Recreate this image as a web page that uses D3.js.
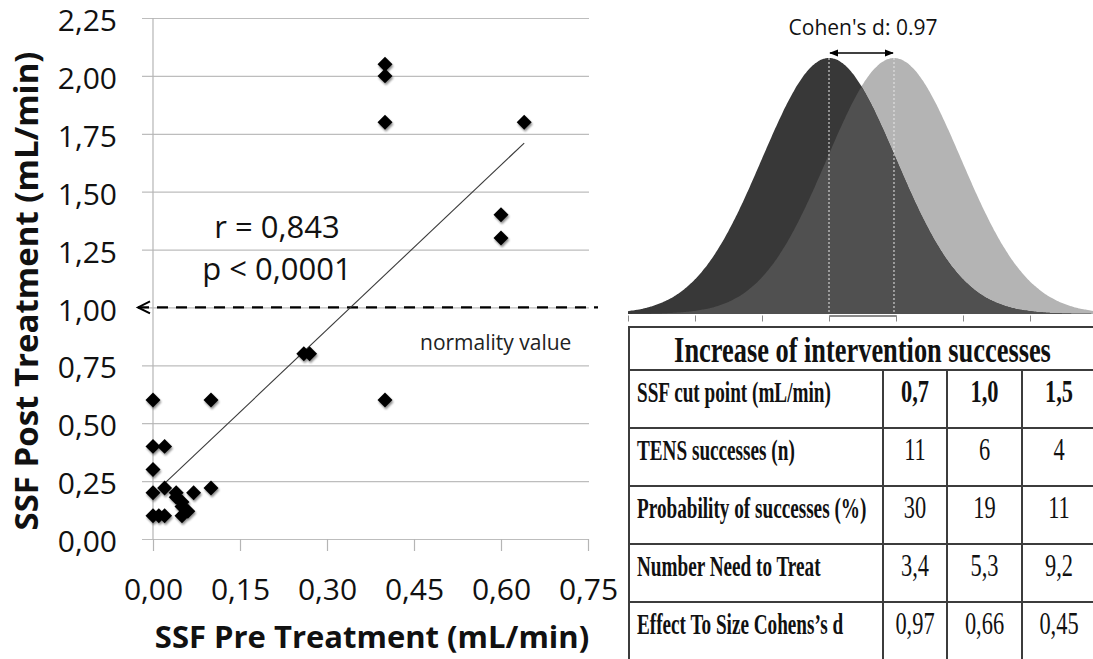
<!DOCTYPE html>
<html><head><meta charset="utf-8">
<script src="https://cdn.jsdelivr.net/npm/d3@7"></script>
<style>body{margin:0;background:#fff} svg{display:block}</style>
</head><body>
<svg id="c" width="1093" height="659"></svg>
<script>
// ---------- DATA ----------
const preTreatment  = [0.00,0.01,0.02,0.05,0.06,0.05,0.05,0.04,0.04,0.07,0.10,0.02,0.00,0.00,0.00,0.02,0.00,0.10,0.26,0.27,0.40,0.40,0.40,0.40,0.60,0.60,0.64];
const postTreatment = [0.10,0.10,0.10,0.10,0.12,0.14,0.16,0.18,0.20,0.20,0.22,0.22,0.20,0.30,0.40,0.40,0.60,0.60,0.80,0.80,0.60,1.80,2.00,2.05,1.40,1.30,1.80];
const xTicks = [0, 0.15, 0.30, 0.45, 0.60, 0.75];
const yTicks = [0, 0.25, 0.50, 0.75, 1.00, 1.25, 1.50, 1.75, 2.00, 2.25];
const trendPre  = [0.02, 0.64];
const trendPost = [0.24, 1.71];
const normalityValue = 1.00;
const statR = "r = 0,843";
const statP = "p < 0,0001";
const cohensD = 0.97;
const distTicks = [-3, -2, -1, 0, 1, 2, 3, 4];

const tableTitle = "Increase of intervention successes";
const rowLabels = ["SSF cut point (mL/min)", "TENS successes (n)", "Probability of successes (%)", "Number Need to Treat", "Effect To Size Cohens\u2019s d"];
const cutPoints   = [0.7, 1.0, 1.5];
const tensSuccess = [11, 6, 4];
const probSuccess = [30, 19, 11];
const nnt         = [3.4, 5.3, 9.2];
const effectSize  = [0.97, 0.66, 0.45];

// ---------- SETUP ----------
const loc = d3.formatLocale({decimal: ",", thousands: ".", grouping: [3], currency: ["", ""]});
const f2 = loc.format(".2f"), f1 = loc.format(".1f"), f0 = loc.format("d");
const svg = d3.select("#c");
const SANS = "'Open Sans', sans-serif";
const SERIF = "'Liberation Serif', serif";

const defs = svg.append("defs");
const sh = defs.append("filter").attr("id","sh").attr("x","-50%").attr("y","-50%").attr("width","200%").attr("height","200%");
sh.append("feGaussianBlur").attr("in","SourceAlpha").attr("stdDeviation",1.3).attr("result","b");
sh.append("feOffset").attr("in","b").attr("dx",1).attr("dy",1.5).attr("result","o");
sh.append("feComponentTransfer").attr("in","o").attr("result","o2").append("feFuncA").attr("type","linear").attr("slope",0.45);
const mg = sh.append("feMerge"); mg.append("feMergeNode").attr("in","o2"); mg.append("feMergeNode").attr("in","SourceGraphic");

// ---------- SCATTER ----------
const x = d3.scaleLinear().domain([0, 0.75]).range([153, 588]);
const y = d3.scaleLinear().domain([0, 2.25]).range([539, 18]);

// gridlines (extend left as outside ticks)
svg.append("g").attr("transform","translate(142,0)")
  .call(d3.axisRight(y).tickValues(yTicks).tickSize(589-142).tickFormat(""))
  .call(g => { g.select(".domain").remove(); g.selectAll("line").attr("stroke","#bdbdbd").attr("stroke-width",1.2); });

// y-axis line
svg.append("line").attr("x1",x(0)).attr("x2",x(0)).attr("y1",y(2.25)).attr("y2",y(0))
  .attr("stroke","#b5b5b5").attr("stroke-width",1.2);

// y labels
svg.append("g").attr("transform",`translate(${x(0)},3)`)
  .call(d3.axisLeft(y).tickValues(yTicks).tickSize(0).tickPadding(36).tickFormat(f2))
  .call(g => { g.select(".domain").remove(); g.selectAll("text").attr("font-family",SANS).attr("font-size",30).attr("fill","#111"); });

// x axis
svg.append("g").attr("transform",`translate(0,${y(0)})`)
  .call(d3.axisBottom(x).tickValues(xTicks).tickSizeInner(12).tickSizeOuter(0).tickPadding(28).tickFormat(f2))
  .call(g => { g.select(".domain").remove();
    g.selectAll("line").attr("stroke","#b5b5b5").attr("stroke-width",1.2);
    g.selectAll("text").attr("font-family",SANS).attr("font-size",30).attr("fill","#111"); });

// axis titles
svg.append("text").attr("transform",`translate(38,291) rotate(-90)`).attr("text-anchor","middle")
  .attr("font-family",SANS).attr("font-weight",700).attr("font-size",33).attr("fill","#111")
  .text("SSF Post Treatment (mL/min)");
svg.append("text").attr("x",372).attr("y",648).attr("text-anchor","middle")
  .attr("font-family",SANS).attr("font-weight",700).attr("font-size",31).attr("fill","#111")
  .text("SSF Pre Treatment (mL/min)");

// normality dashed line with arrow
const yN = y(normalityValue);
svg.append("line").attr("x1",x(0)-15).attr("x2",598).attr("y1",yN).attr("y2",yN)
  .attr("stroke","#000").attr("stroke-width",2.2).attr("stroke-dasharray","11,8");
svg.append("path").attr("d",`M${x(0)-3},${yN-6}L${x(0)-15},${yN}L${x(0)-3},${yN+6}`)
  .attr("fill","none").attr("stroke","#000").attr("stroke-width",2);
svg.append("text").attr("x",420).attr("y",350).attr("font-family",SANS).attr("font-size",21).attr("fill","#222")
  .text("normality value");

// trend line
svg.append("line").attr("x1",x(trendPre[0])).attr("y1",y(trendPost[0]))
  .attr("x2",x(trendPre[1])).attr("y2",y(trendPost[1])).attr("stroke","#3a3a3a").attr("stroke-width",1.1);

// stats text
svg.append("text").attr("x",277).attr("y",238).attr("text-anchor","middle").attr("font-family",SANS).attr("font-size",31).attr("fill","#111").text(statR);
svg.append("text").attr("x",277).attr("y",280).attr("text-anchor","middle").attr("font-family",SANS).attr("font-size",31).attr("fill","#111").text(statP);

// points
const pts = preTreatment.map((v,i)=>({x:v, y:postTreatment[i]}));
const diamond = d3.symbol().type(d3.symbolSquare).size(112);
svg.append("g").attr("filter","url(#sh)").selectAll("path").data(pts).join("path")
  .attr("d",diamond).attr("transform",d=>`translate(${x(d.x)},${y(d.y)}) rotate(45)`).attr("fill","#000");

// ---------- DISTRIBUTIONS ----------
const xs = d3.scaleLinear().domain([0,1]).range([829,896]);
const pdf = (v,m) => Math.exp(-0.5*(v-m)*(v-m))/Math.sqrt(2*Math.PI);
const ys = d3.scaleLinear().domain([0, pdf(0,0)]).range([314, 58]);
const grid = d3.range(-3.0, 4.02, 0.02);
const area = (fn) => d3.area().x(v=>xs(v)).y0(ys(0)).y1(v=>ys(fn(v))).curve(d3.curveBasis)(grid);
svg.append("path").attr("d",area(v=>pdf(v,cohensD))).attr("fill","#b4b4b4");
svg.append("path").attr("d",area(v=>pdf(v,0))).attr("fill","#383838");
svg.append("path").attr("d",area(v=>Math.min(pdf(v,0),pdf(v,cohensD)))).attr("fill","#505050");

[0, cohensD].forEach(m=>{
  svg.append("line").attr("x1",xs(m)).attr("x2",xs(m)).attr("y1",ys(pdf(0,0))).attr("y2",ys(0))
    .attr("stroke","#e8e8e8").attr("stroke-width",1).attr("stroke-dasharray","2,2");
});

// distribution axis
svg.append("g").attr("transform","translate(0,315.5)")
  .call(d3.axisBottom(xs).tickValues(distTicks).tickSizeInner(6).tickSizeOuter(0).tickFormat(""))
  .call(g => { g.select(".domain").attr("stroke","#8a8a8a").attr("stroke-width",2);
    g.selectAll("line").attr("stroke","#888").attr("stroke-width",1); });

// arrow
const mk = defs.append("marker").attr("id","ah").attr("viewBox","0 0 10 10").attr("refX",9).attr("refY",5)
  .attr("markerWidth",6).attr("markerHeight",6).attr("orient","auto-start-reverse");
mk.append("path").attr("d","M0,1L10,5L0,9Z").attr("fill","#000");
svg.append("line").attr("x1",xs(0)+1).attr("x2",xs(cohensD)-1).attr("y1",53).attr("y2",53)
  .attr("stroke","#000").attr("stroke-width",1.5).attr("marker-start","url(#ah)").attr("marker-end","url(#ah)");
svg.append("text").attr("x",863).attr("y",35).attr("text-anchor","middle").attr("font-family",SANS).attr("font-size",21).attr("fill","#111")
  .text("Cohen's d: " + cohensD.toFixed(2));

// ---------- TABLE ----------
const colEdges = [629, 883, 947, 1022, 1096];
const rowY = d3.scaleLinear().domain([0,5]).range([370, 660]);
const tb = svg.append("g");
const bc = "#3c3c3c";
tb.append("line").attr("x1",colEdges[0]).attr("x2",colEdges[4]).attr("y1",327).attr("y2",327).attr("stroke",bc).attr("stroke-width",2);
d3.range(0,6).forEach(i=>{
  tb.append("line").attr("x1",colEdges[0]).attr("x2",colEdges[4]).attr("y1",rowY(i)).attr("y2",rowY(i)).attr("stroke",bc).attr("stroke-width",2);
});
tb.append("line").attr("x1",colEdges[0]).attr("x2",colEdges[0]).attr("y1",326).attr("y2",rowY(5)).attr("stroke",bc).attr("stroke-width",2);
colEdges.slice(1,4).forEach(cx=>{
  tb.append("line").attr("x1",cx).attr("x2",cx).attr("y1",rowY(0)).attr("y2",rowY(5)).attr("stroke",bc).attr("stroke-width",2);
});

tb.append("text").attr("transform",`translate(${(colEdges[0]+colEdges[4])/2},362) scale(0.733,1)`).attr("text-anchor","middle")
  .attr("font-family",SERIF).attr("font-weight",700).attr("font-size",36).attr("fill","#111").text(tableTitle);

const rowsVals = [cutPoints.map(f1), tensSuccess.map(f0), probSuccess.map(f0), nnt.map(f1), effectSize.map(f2)];
rowLabels.forEach((lab,i)=>{
  const by = rowY(i) + 32;
  tb.append("text").attr("transform",`translate(637,${by}) scale(0.64,1)`)
    .attr("font-family",SERIF).attr("font-weight",700).attr("font-size",30).attr("fill","#111").text(lab);
  rowsVals[i].forEach((v,j)=>{
    const cx = (colEdges[j+1]+colEdges[j+2])/2;
    tb.append("text").attr("transform",`translate(${cx},${by}) scale(0.7,1)`).attr("text-anchor","middle")
      .attr("font-family",SERIF).attr("font-weight",i===0?700:400).attr("font-size",32).attr("fill","#111").text(v);
  });
});
</script>
</body></html>
